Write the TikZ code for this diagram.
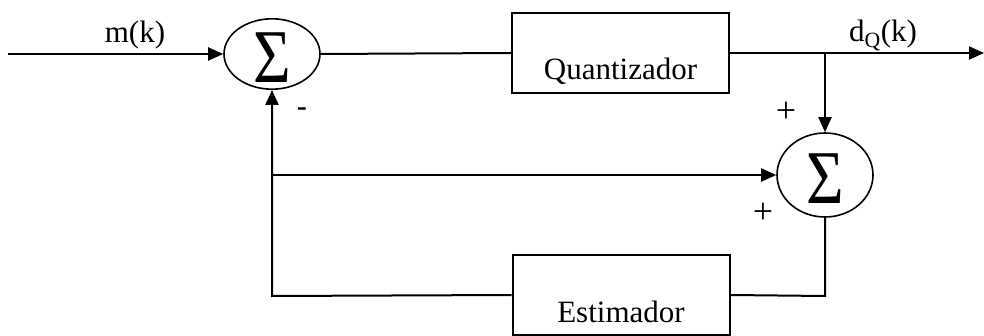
\documentclass[tikz,border=0pt]{standalone}
\usepackage{graphicx}
\usepackage{fontspec}
\setmainfont{Liberation Serif}
\newfontfamily\sansf{Liberation Sans}
\usetikzlibrary{arrows.meta,shapes.geometric}
\newcommand{\bigsig}{\raisebox{-4pt}[\height][0pt]{\scalebox{0.85}[1]{\fontsize{76}{76}\selectfont Σ}}}
\begin{document}
\begin{tikzpicture}[x=1pt,y=-1pt,
  wire/.style={line width=2pt},
  arr/.style={wire,-{Triangle[length=15pt,width=13pt]}},
  sumnode/.style={draw,ellipse,line width=1.6pt,inner sep=0pt,minimum width=96pt,minimum height=#1},
  blockbox/.style={draw,rectangle,line width=2pt,minimum width=217pt,minimum height=80pt,inner sep=0pt},
  lbl/.style={font=\fontsize{31}{31}\selectfont,inner sep=0pt},
  sgn/.style={font=\fontsize{36}{36}\selectfont,inner sep=0pt}]
\useasboundingbox (0,0) rectangle (984,336);
% nodes
\node[sumnode=70pt] (s1) at (272,54) {\bigsig};
\node[sumnode=84pt] (s2) at (825,175) {\bigsig};
\node[blockbox] (q) at (620.5,53) {};
\node[blockbox] (e) at (621,295) {};
\node[lbl,anchor=base] (qt) at (620.5,80) {Quantizador};
\node[lbl,anchor=base] (et) at (621,323) {Estimador};
\node[lbl,anchor=base] (mk) at (135,43) {m(k)};
\node[lbl,anchor=base] (dq) at (883,42) {d\textsubscript{Q}(k)};
\node[sgn] (p1) at (786,112) {+};
\node[sgn] (p2) at (763,213) {+};
\node[sgn,font=\sansf\fontsize{32}{32}\selectfont] (m1) at (302,113) {-};
% coordinates
\coordinate (in) at (8,54);
\coordinate (j) at (825,53);
\coordinate (out) at (984,53);
\coordinate (br) at (272,296);
\coordinate (sr) at (825,296);
\coordinate (bj) at (272,175);
% connectors
\draw[arr] (in) -- (s1.west);
\draw[wire] (s1.east) -- (q.west);
\draw[arr] (q.east) -- (j) -- (out);
\draw[arr] (j) -- (s2.north);
\draw[wire] (s2.south) -- (sr) -- (e.east);
\draw[arr] (e.west) -- (br) -- (s1.south);
\draw[arr] (bj) -- (s2.west);
\end{tikzpicture}
\end{document}
